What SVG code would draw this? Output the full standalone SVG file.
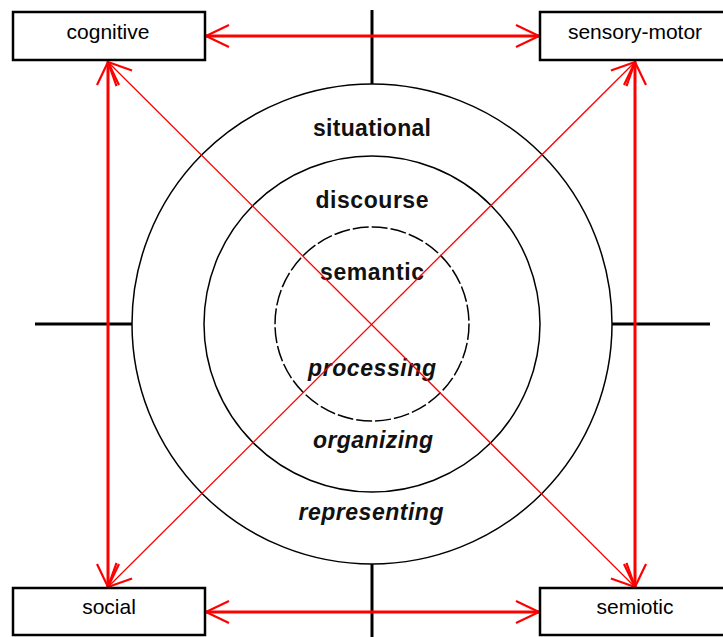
<svg xmlns="http://www.w3.org/2000/svg" width="723" height="637" viewBox="0 0 723 637">
<style>
.box{fill:#fff;stroke:#000;stroke-width:2.5}
.lbl{font-family:"Liberation Sans",Arial,sans-serif;font-size:21px;fill:#000;text-anchor:middle}
.ring{fill:none;stroke:#000;stroke-width:1.5}
.axis{stroke:#000;stroke-width:3}
.lvl{font-family:"Liberation Sans",Arial,sans-serif;font-size:23px;font-weight:bold;fill:#111;text-anchor:middle}
.it{font-style:italic}
.thick{stroke:#f00;stroke-width:3;fill:none}
.thin{stroke:#f00;stroke-width:1.3;fill:none}
</style>
<defs>
<marker id="ah" markerUnits="userSpaceOnUse" viewBox="-26 -14 30 28" markerWidth="30" markerHeight="28" refX="0" refY="0" orient="auto-start-reverse">
<path d="M-23,-11 L0,0 L-23,11" fill="none" stroke="#f00" stroke-width="2.2"/>
</marker>
</defs>
<rect width="723" height="637" fill="#fff"/>
<g id="rings">
<line class="axis" x1="372" y1="10" x2="372" y2="84"/>
<line class="axis" x1="372" y1="564" x2="372" y2="637"/>
<line class="axis" x1="35" y1="324" x2="132" y2="324"/>
<line class="axis" x1="612" y1="324" x2="710" y2="324"/>
<circle class="ring" cx="372" cy="324" r="240"/>
<circle class="ring" cx="372" cy="324" r="168"/>
<circle class="ring" cx="372" cy="324" r="97" stroke-dasharray="16 3"/>
<text class="lvl" x="372" y="136" textLength="118" lengthAdjust="spacing">situational</text>
<text class="lvl" x="372" y="208" textLength="113" lengthAdjust="spacing">discourse</text>
<text class="lvl" x="372" y="280" textLength="104" lengthAdjust="spacing">semantic</text>
<text class="lvl it" x="372" y="376" textLength="128" lengthAdjust="spacing">processing</text>
<text class="lvl it" x="373" y="448" textLength="120" lengthAdjust="spacing">organizing</text>
<text class="lvl it" x="371" y="520" textLength="145" lengthAdjust="spacing">representing</text>
</g>
<g id="connectors">
<line class="thick" x1="206" y1="36" x2="539" y2="36" marker-start="url(#ah)" marker-end="url(#ah)"/>
<line class="thick" x1="206" y1="612" x2="539" y2="612" marker-start="url(#ah)" marker-end="url(#ah)"/>
<line class="thick" x1="108" y1="62" x2="108" y2="587" marker-start="url(#ah)" marker-end="url(#ah)"/>
<line class="thick" x1="635" y1="62" x2="635" y2="587" marker-start="url(#ah)" marker-end="url(#ah)"/>
<line class="thin" x1="108" y1="62" x2="635" y2="587" marker-start="url(#ah)" marker-end="url(#ah)"/>
<line class="thin" x1="635" y1="62" x2="108" y2="587" marker-start="url(#ah)" marker-end="url(#ah)"/>
</g>
<g id="cognitive">
<rect class="box" x="13" y="12" width="192" height="48"/>
<text class="lbl" x="108" y="39">cognitive</text>
</g>
<g id="sensory-motor">
<rect class="box" x="540" y="12" width="200" height="48"/>
<text class="lbl" x="635" y="39">sensory-motor</text>
</g>
<g id="social">
<rect class="box" x="13" y="588" width="192" height="47"/>
<text class="lbl" x="109" y="614">social</text>
</g>
<g id="semiotic">
<rect class="box" x="540" y="588" width="200" height="47"/>
<text class="lbl" x="635" y="614">semiotic</text>
</g>
</svg>
